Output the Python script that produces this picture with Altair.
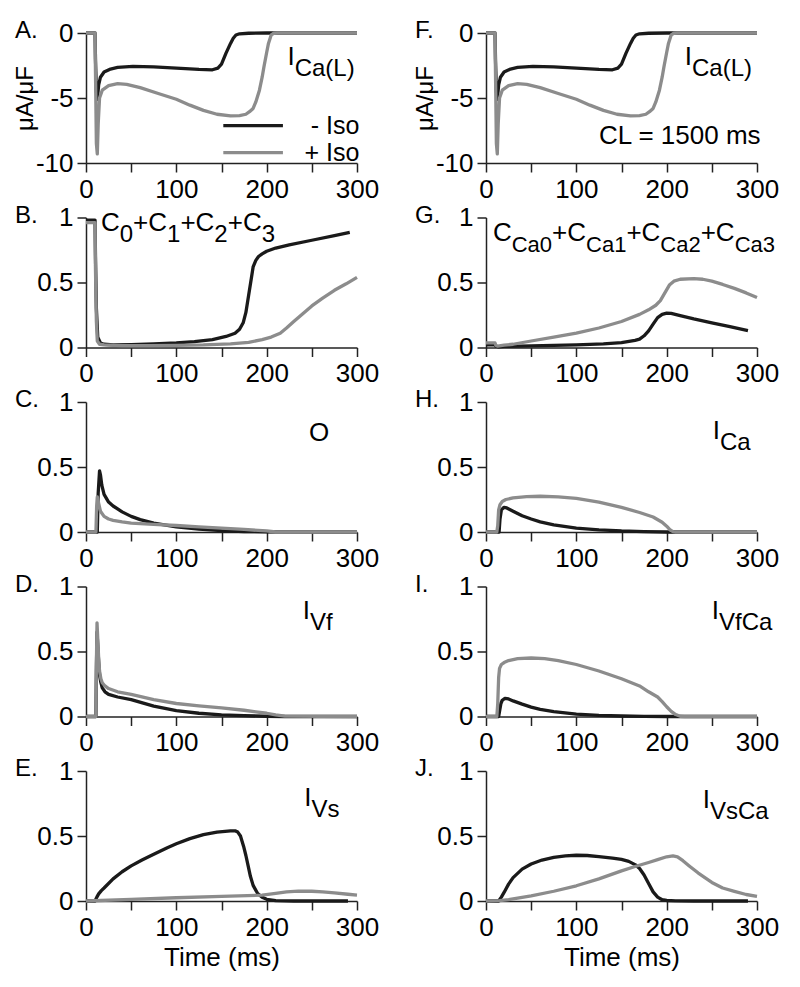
import altair as alt
import pandas as pd

FONT = "Liberation Sans"
BLACK = "#1a1a1a"
GRAY = "#8c8c8c"
PW, PH = 271, 130

# ---------------- data ----------------
# A / F : I_Ca(L) (uA/uF)
ica_black_t = [0, 10, 10.5, 11.5, 12.5, 14, 16, 20, 26, 35, 52, 75, 100, 125, 140, 146, 150, 155, 160, 163, 166, 170, 180, 200, 250, 300]
ica_black_v = [0, 0, -2.0, -4.5, -5.1, -4.0, -3.4, -3.0, -2.8, -2.65, -2.56, -2.6, -2.7, -2.8, -2.83, -2.7, -2.4, -1.55, -0.8, -0.4, -0.15, -0.06, -0.02, 0, 0, 0]
ica_gray_t = [0, 10, 10.5, 11.5, 12.5, 13.5, 15, 18, 25, 35, 45, 60, 80, 100, 115, 130, 145, 160, 170, 177, 181, 185, 188, 192, 195, 197, 200, 202, 205, 208, 212, 250, 300]
ica_gray_v = [0, 0, -3, -8.5, -9.3, -7.0, -5.0, -4.4, -4.05, -3.9, -3.95, -4.2, -4.65, -5.1, -5.55, -5.95, -6.25, -6.38, -6.35, -6.25, -6.05, -5.8, -5.3, -4.4, -3.4, -2.6, -1.5, -0.8, -0.15, -0.02, 0, 0, 0]

# B : C0+C1+C2+C3
c_black_t = [0, 10, 10.5, 11.5, 13, 16, 20, 30, 50, 75, 100, 120, 140, 155, 165, 170, 174, 177, 180, 183, 185, 188, 191, 195, 200, 210, 225, 250, 275, 292]
c_black_v = [0.98, 0.98, 0.7, 0.3, 0.08, 0.035, 0.025, 0.02, 0.022, 0.028, 0.035, 0.045, 0.06, 0.085, 0.11, 0.14, 0.19, 0.27, 0.40, 0.53, 0.62, 0.67, 0.70, 0.72, 0.74, 0.765, 0.79, 0.825, 0.86, 0.885]
c_gray_t = [0, 10, 10.5, 11.5, 12.5, 15, 20, 40, 70, 100, 130, 160, 180, 195, 205, 215, 222, 230, 240, 250, 262, 275, 288, 300]
c_gray_v = [0.96, 0.96, 0.6, 0.2, 0.05, 0.025, 0.02, 0.015, 0.015, 0.017, 0.02, 0.028, 0.04, 0.06, 0.08, 0.11, 0.15, 0.2, 0.26, 0.32, 0.38, 0.44, 0.49, 0.54]

# G : CCa0+CCa1+CCa2+CCa3
cca_black_t = [0, 10, 11, 14, 20, 50, 100, 130, 150, 165, 170, 175, 180, 185, 190, 195, 200, 205, 215, 230, 250, 270, 290]
cca_black_v = [0.02, 0.02, 0.01, 0.005, 0.008, 0.012, 0.02, 0.028, 0.038, 0.055, 0.064, 0.09, 0.128, 0.18, 0.23, 0.255, 0.264, 0.262, 0.245, 0.22, 0.19, 0.16, 0.13]
cca_gray_t = [0, 10, 11, 13, 20, 30, 50, 75, 100, 125, 150, 170, 180, 188, 193, 198, 203, 208, 215, 230, 240, 250, 262, 275, 288, 300]
cca_gray_v = [0.035, 0.035, 0.015, 0.01, 0.018, 0.025, 0.05, 0.08, 0.11, 0.15, 0.2, 0.255, 0.29, 0.325, 0.36, 0.42, 0.48, 0.51, 0.525, 0.53, 0.525, 0.51, 0.485, 0.455, 0.42, 0.385]

# C : O
o_black_t = [0, 12.5, 13.5, 15, 16, 17.5, 20, 25, 30, 40, 50, 60, 75, 100, 125, 150, 175, 200, 300]
o_black_v = [0, 0, 0.3, 0.47, 0.44, 0.36, 0.29, 0.23, 0.2, 0.155, 0.12, 0.095, 0.068, 0.04, 0.022, 0.01, 0.004, 0.001, 0]
o_gray_t = [0, 11, 11.8, 12.5, 14, 16, 20, 25, 30, 40, 50, 75, 100, 125, 150, 175, 200, 210, 300]
o_gray_v = [0, 0, 0.2, 0.27, 0.22, 0.16, 0.12, 0.1, 0.09, 0.078, 0.068, 0.058, 0.05, 0.04, 0.03, 0.02, 0.008, 0, 0]

# H : I_Ca
ic_black_t = [0, 14.5, 15.5, 17, 20, 23, 30, 40, 50, 60, 75, 100, 125, 150, 175, 200, 300]
ic_black_v = [0, 0, 0.1, 0.17, 0.19, 0.185, 0.16, 0.125, 0.1, 0.078, 0.055, 0.03, 0.017, 0.008, 0.003, 0, 0]
ic_gray_t = [0, 12, 13, 14, 15.5, 18, 22, 30, 45, 60, 80, 100, 125, 150, 170, 185, 195, 200, 204, 207, 210, 300]
ic_gray_v = [0, 0, 0.05, 0.17, 0.21, 0.235, 0.25, 0.262, 0.272, 0.275, 0.27, 0.258, 0.23, 0.19, 0.15, 0.115, 0.075, 0.045, 0.015, 0.003, 0, 0]

# D : I_Vf
ivf_black_t = [0, 11, 11.5, 12.2, 13, 14, 15, 16.5, 18, 21, 25, 35, 50, 75, 100, 125, 150, 175, 200, 220, 300]
ivf_black_v = [0, 0, 0.35, 0.65, 0.55, 0.42, 0.32, 0.26, 0.22, 0.19, 0.17, 0.15, 0.13, 0.08, 0.045, 0.025, 0.013, 0.006, 0.002, 0, 0]
ivf_gray_t = [0, 11, 11.5, 12.2, 13, 14, 15, 16.5, 18, 21, 25, 35, 50, 75, 100, 125, 150, 175, 200, 210, 220, 300]
ivf_gray_v = [0, 0, 0.4, 0.72, 0.6, 0.45, 0.35, 0.29, 0.26, 0.235, 0.215, 0.19, 0.17, 0.13, 0.1, 0.082, 0.066, 0.048, 0.025, 0.012, 0.003, 0]

# I : I_VfCa
ivfca_black_t = [0, 14, 15, 16.5, 18, 21, 25, 30, 40, 50, 60, 75, 100, 125, 150, 175, 200, 300]
ivfca_black_v = [0, 0, 0.04, 0.1, 0.125, 0.14, 0.135, 0.12, 0.095, 0.072, 0.055, 0.037, 0.018, 0.009, 0.004, 0.001, 0, 0]
ivfca_gray_t = [0, 12, 13, 14, 15, 17, 20, 25, 35, 50, 65, 80, 100, 125, 150, 170, 180, 190, 195, 200, 205, 210, 215, 220, 300]
ivfca_gray_v = [0, 0, 0.1, 0.3, 0.37, 0.4, 0.415, 0.43, 0.445, 0.45, 0.445, 0.43, 0.4, 0.35, 0.29, 0.235, 0.19, 0.15, 0.115, 0.075, 0.04, 0.015, 0.002, 0, 0]

# E : I_Vs
ivs_black_t = [0, 10, 12, 14, 17, 20, 30, 40, 50, 62, 75, 90, 100, 115, 130, 145, 160, 165, 168, 171, 174.5, 177, 179.5, 182, 185, 190, 195, 200, 210, 230, 290]
ivs_black_v = [0, 0, 0.03, 0.055, 0.08, 0.1, 0.17, 0.225, 0.27, 0.315, 0.36, 0.41, 0.44, 0.48, 0.51, 0.53, 0.54, 0.54, 0.53, 0.5, 0.42, 0.35, 0.27, 0.19, 0.12, 0.058, 0.028, 0.013, 0.003, 0, 0]
ivs_gray_t = [0, 50, 100, 150, 195, 210, 222, 235, 250, 262, 275, 290, 300]
ivs_gray_v = [0, 0.012, 0.025, 0.035, 0.045, 0.058, 0.07, 0.076, 0.075, 0.07, 0.062, 0.052, 0.046]

# J : I_VsCa
ivsca_black_t = [0, 14, 17, 20, 25, 30, 40, 50, 62, 75, 88, 100, 112, 125, 140, 150, 158, 165, 170, 175, 180, 185, 190, 195, 200, 210, 230, 290]
ivsca_black_v = [0, 0, 0.03, 0.066, 0.13, 0.18, 0.245, 0.285, 0.315, 0.335, 0.347, 0.352, 0.35, 0.342, 0.33, 0.32, 0.305, 0.28, 0.25, 0.2, 0.135, 0.07, 0.03, 0.01, 0.004, 0.001, 0, 0]
ivsca_gray_t = [0, 15, 25, 50, 75, 100, 125, 150, 165, 180, 190, 200, 207, 212, 218, 225, 235, 250, 262, 275, 288, 300]
ivsca_gray_v = [0, 0.003, 0.01, 0.04, 0.075, 0.117, 0.17, 0.232, 0.265, 0.296, 0.318, 0.34, 0.347, 0.34, 0.31, 0.27, 0.215, 0.143, 0.1, 0.074, 0.05, 0.036]

series_names = ["- Iso", "+ Iso"]
x_ticks = [0, 50, 100, 150, 200, 250, 300]
y_ticks_frac = [0, 0.25, 0.5, 0.75, 1]
y_ticks_ica = [0, -2.5, -5, -7.5, -10]

# ---------------- text helpers ----------------
MAIN, SUBDY = 26, 12
WID = {"C": 722, "a": 556, "(": 333, ")": 333, "L": 556, "I": 278, "+": 584,
       "V": 667, "f": 278, "s": 500, "O": 778}


def twidth(s, fs):
    return sum(WID.get(c, 556) for c in s) / 1000 * fs


def text_rows(t0, v0, segs, ydom, sub=24):
    ppt = PW / 300.0
    ppv = PH / (ydom[1] - ydom[0])
    rows, x = [], 0.0
    for txt, is_sub in segs:
        fs = sub if is_sub else MAIN
        dy = SUBDY if is_sub else 0
        rows.append({"t": t0 + x / ppt, "v": v0 - dy / ppv, "txt": txt, "fs": fs})
        x += twidth(txt, fs)
    return rows


color_scale = alt.Scale(domain=series_names, range=[BLACK, GRAY])


def panel(letter, bt, bv, gt, gv, ydom, yticks, ann_rows, ytitle=None, xtitle=None, extra=None):
    xs = alt.Scale(domain=[0, 300], nice=False)
    ys = alt.Scale(domain=ydom, nice=False)
    if yticks is y_ticks_ica:
        yexpr = "datum.value % 5 == 0 ? '' + datum.value : ''"
    else:
        yexpr = "(datum.value * 2) % 1 == 0 ? '' + datum.value : ''"
    xaxis = alt.Axis(values=x_ticks, labelExpr="datum.value % 100 == 0 ? '' + datum.value : ''",
                     title=xtitle if xtitle else None, labelFlush=False, labelOverlap=False)
    yaxis_kw = dict(values=yticks, labelExpr=yexpr, labelFlush=False, labelOverlap=False)
    if ytitle:
        yaxis = alt.Axis(title=ytitle, titleFontSize=24, titleX=-49, titleBaseline="bottom", **yaxis_kw)
    else:
        yaxis = alt.Axis(title=None, **yaxis_kw)

    def line(ts, vs, name):
        df = pd.DataFrame({"t": ts, "v": vs, "s": name, "i": range(len(ts))})
        return alt.Chart(df).mark_line(strokeWidth=3.3, strokeJoin="round").encode(
            x=alt.X("t:Q", scale=xs, axis=xaxis),
            y=alt.Y("v:Q", scale=ys, axis=yaxis),
            color=alt.Color("s:N", scale=color_scale, legend=None),
            order=alt.Order("i:Q"),
        )

    layers = [line(bt, bv, series_names[0]), line(gt, gv, series_names[1])]
    tdf = pd.DataFrame(ann_rows)
    layers.append(alt.Chart(tdf).mark_text(align="left", baseline="middle", font=FONT, color="black").encode(
        x=alt.X("t:Q", scale=xs), y=alt.Y("v:Q", scale=ys), text="txt:N", size=alt.Size("fs:Q", scale=None)))
    layers.append(alt.Chart(pd.DataFrame({"lab": [letter]})).mark_text(
        align="left", baseline="middle", font=FONT, fontSize=24, color="black").encode(
        text="lab:N", x=alt.value(-71), y=alt.value(-2)))
    if extra:
        layers += extra(xs, ys)
    return alt.layer(*layers).properties(width=PW, height=PH)


# legend for panel A (drawn from data)
leg_t0 = [152, 152]
leg_t1 = [218, 218]
leg_v = [-7.13, -9.2]
leg_text_t = [302.6, 302.6]


def legend_A(xs, ys):
    df = pd.DataFrame({"t0": leg_t0, "t1": leg_t1, "v": leg_v, "s": series_names, "tt": leg_text_t})
    rule = alt.Chart(df).mark_rule(strokeWidth=3.3).encode(
        x=alt.X("t0:Q", scale=xs), x2="t1:Q", y=alt.Y("v:Q", scale=ys),
        color=alt.Color("s:N", scale=color_scale, legend=None))
    txt = alt.Chart(df).mark_text(align="right", baseline="middle", font=FONT, fontSize=25, color="black").encode(
        x=alt.X("tt:Q", scale=xs), y=alt.Y("v:Q", scale=ys), text="s:N")
    return [rule, txt]


cl_t, cl_v, cl_text = [125], [-7.93], ["CL = 1500 ms"]


def cl_F(xs, ys):
    df = pd.DataFrame({"t": cl_t, "v": cl_v, "txt": cl_text})
    return [alt.Chart(df).mark_text(align="left", baseline="middle", font=FONT, fontSize=26, color="black").encode(
        x=alt.X("t:Q", scale=xs), y=alt.Y("v:Q", scale=ys), text="txt:N")]


ICA = [-10, 0]
FR = [0, 1]
ann_ICaL_A = text_rows(223, -1.86, [("I", False), ("Ca(L)", True)], ICA)
ann_ICaL_F = text_rows(220, -1.85, [("I", False), ("Ca(L)", True)], ICA)
ann_C = text_rows(16.6, 0.956, [("C", False), ("0", True), ("+C", False), ("1", True),
                                ("+C", False), ("2", True), ("+C", False), ("3", True)], FR)
ann_CCa = text_rows(7.7, 0.88, [("C", False), ("Ca0", True), ("+C", False), ("Ca1", True),
                                ("+C", False), ("Ca2", True), ("+C", False), ("Ca3", True)], FR, sub=22)
ann_O = text_rows(247, 0.764, [("O", False)], FR)
ann_ICa = text_rows(251, 0.777, [("I", False), ("Ca", True)], FR)
ann_IVf = text_rows(240, 0.815, [("I", False), ("Vf", True)], FR)
ann_IVfCa = text_rows(250, 0.81, [("I", False), ("VfCa", True)], FR)
ann_IVs = text_rows(241.6, 0.793, [("I", False), ("Vs", True)], FR)
ann_IVsCa = text_rows(240, 0.78, [("I", False), ("VsCa", True)], FR)

pA = panel("A.", ica_black_t, ica_black_v, ica_gray_t, ica_gray_v, ICA, y_ticks_ica, ann_ICaL_A, ytitle="μA/μF", extra=legend_A)
pF = panel("F.", ica_black_t, ica_black_v, ica_gray_t, ica_gray_v, ICA, y_ticks_ica, ann_ICaL_F, ytitle="μA/μF", extra=cl_F)
pB = panel("B.", c_black_t, c_black_v, c_gray_t, c_gray_v, FR, y_ticks_frac, ann_C)
pG = panel("G.", cca_black_t, cca_black_v, cca_gray_t, cca_gray_v, FR, y_ticks_frac, ann_CCa)
pC = panel("C.", o_black_t, o_black_v, o_gray_t, o_gray_v, FR, y_ticks_frac, ann_O)
pH = panel("H.", ic_black_t, ic_black_v, ic_gray_t, ic_gray_v, FR, y_ticks_frac, ann_ICa)
pD = panel("D.", ivf_black_t, ivf_black_v, ivf_gray_t, ivf_gray_v, FR, y_ticks_frac, ann_IVf)
pI = panel("I.", ivfca_black_t, ivfca_black_v, ivfca_gray_t, ivfca_gray_v, FR, y_ticks_frac, ann_IVfCa)
pE = panel("E.", ivs_black_t, ivs_black_v, ivs_gray_t, ivs_gray_v, FR, y_ticks_frac, ann_IVs, xtitle="Time (ms)")
pJ = panel("J.", ivsca_black_t, ivsca_black_v, ivsca_gray_t, ivsca_gray_v, FR, y_ticks_frac, ann_IVsCa, xtitle="Time (ms)")

chart = alt.concat(pA, pF, pB, pG, pC, pH, pD, pI, pE, pJ, columns=2,
                   spacing={"row": 54.5, "column": 129}, bounds="flush").properties(
    padding={"left": 5, "top": 11, "right": 5, "bottom": 5}
).configure_view(stroke=None).configure_axis(
    domainColor="#222222", domainWidth=1.5, tickColor="#222222", tickWidth=1.5, tickSize=9,
    labelFont=FONT, labelFontSize=26, labelColor="black", labelPadding=4,
    titleFont=FONT, titleFontSize=26, titleFontWeight="normal", titleColor="black", titlePadding=4,
    grid=False,
)

chart.save("out.html", embed_options={"renderer": "svg", "actions": False})
